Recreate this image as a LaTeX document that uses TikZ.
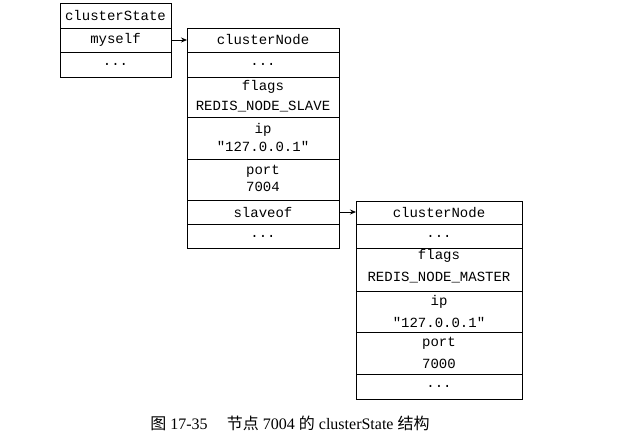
\documentclass[tikz,border=0pt]{standalone}
\usepackage{fontspec}
\setmainfont{Liberation Serif}
\setmonofont{Liberation Mono}
\newfontfamily\cjk{Noto Sans CJK SC}
\usetikzlibrary{arrows.meta}
\newcommand{\rcell}[5]{%
  \node[cellbox, minimum width={(#4-#2)*1pt}, minimum height={(#5-#3)*1pt}] (#1) at (#2,#3) {};}
\tikzset{
  cellbox/.style={draw, line width=0.9pt, anchor=north west, inner sep=0pt, outer sep=0pt},
  txt/.style={font=\ttfamily\fontsize{14}{16}\selectfont, inner sep=0pt, anchor=center},
  ptr/.style={-{Stealth[length=6pt,width=5pt]}, line width=0.8pt},
}
\begin{document}
\begin{tikzpicture}[x=1pt,y=-1pt]
\useasboundingbox (0,0) rectangle (638,441);
% clusterState
\rcell{csT}{60}{3}{171}{28}
\rcell{csM}{60}{28}{171}{52}
\rcell{csD}{60}{52}{171}{77}
\node[txt] (tcsT) at (csT.center) {clusterState};
\node[txt] (tcsM) at (csM.center) {myself};
\node[txt] (tcsD) at (csD.center) {...};
% clusterNode 7004
\rcell{aT}{187}{28}{339}{52}
\rcell{aD}{187}{52}{339}{77}
\rcell{aF}{187}{77}{339}{117}
\rcell{aI}{187}{117}{339}{159}
\rcell{aP}{187}{159}{339}{200}
\rcell{aS}{187}{200}{339}{224}
\rcell{aE}{187}{224}{339}{248}
\node[txt] (taT) at (aT.center) {clusterNode};
\node[txt] (taD) at (aD.center) {...};
\node[txt] (taF1) at (263,87) {flags};
\node[txt] (taF2) at (263,107) {REDIS\_NODE\_SLAVE};
\node[txt] (taI1) at (263,130) {ip};
\node[txt] (taI2) at (263,146) {"127.0.0.1"};
\node[txt] (taP1) at (263,171) {port};
\node[txt] (taP2) at (263,187) {7004};
\node[txt] (taS) at (aS.center) {slaveof};
\node[txt] (taE) at (aE.center) {...};
% clusterNode 7000
\rcell{bT}{356}{201}{522}{224}
\rcell{bD}{356}{224}{522}{248}
\rcell{bF}{356}{248}{522}{291}
\rcell{bI}{356}{291}{522}{332}
\rcell{bP}{356}{332}{522}{374}
\rcell{bE}{356}{374}{522}{399}
\node[txt] (tbT) at (bT.center) {clusterNode};
\node[txt] (tbD) at (bD.center) {...};
\node[txt] (tbF1) at (439,256) {flags};
\node[txt] (tbF2) at (439,278) {REDIS\_NODE\_MASTER};
\node[txt] (tbI1) at (439,302) {ip};
\node[txt] (tbI2) at (439,322) {"127.0.0.1"};
\node[txt] (tbP1) at (439,343) {port};
\node[txt] (tbP2) at (439,364) {7000};
\node[txt] (tbE) at (bE.center) {...};
% pointers
\draw[ptr] (csM.east) -- (aT.west);
\draw[ptr] (aS.east) -- (aS.east -| bT.west);
% caption
\node[font=\fontsize{16}{18}\selectfont, inner sep=0pt, anchor=center] (cap) at (290,423)
  {{\cjk 图} 17-35\hspace{1.2em}{\cjk 节点} 7004 {\cjk 的} clusterState {\cjk 结构}};
\end{tikzpicture}
\end{document}
